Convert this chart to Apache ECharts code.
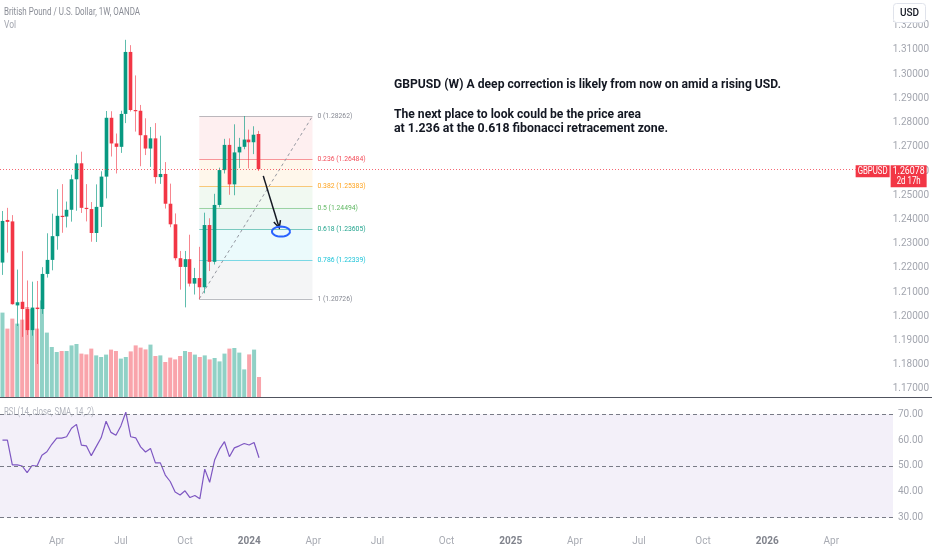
<!DOCTYPE html>
<html><head><meta charset="utf-8">
<script src="https://cdn.jsdelivr.net/npm/echarts@6/dist/echarts.min.js"></script>
<style>html,body{margin:0;padding:0;background:#fff}#c{width:932px;height:550px}</style>
</head><body><div id="c"></div>
<script>
// ---------- data ----------
const startWeek = '2023-01-16';
const totalWeeks = 181;
const MONTHS = ['Jan','Feb','Mar','Apr','May','Jun','Jul','Aug','Sep','Oct','Nov','Dec'];
const opens = [1.2222,1.2398,1.2392,1.2045,1.2060,1.2030,1.1943,1.2036,1.2030,1.2175,1.2233,1.2331,1.2415,1.2412,1.2440,1.2566,1.2632,1.2448,1.2443,1.2344,1.2452,1.2577,1.2820,1.2714,1.2700,1.2836,1.3092,1.2852,1.2849,1.2748,1.2693,1.2735,1.2575,1.2588,1.2465,1.2380,1.2240,1.2204,1.2236,1.2135,1.2158,1.2120,1.2377,1.2225,1.2460,1.2604,1.2708,1.2545,1.2677,1.2700,1.2730,1.2719,1.2753];
const highs = [1.2435,1.2448,1.2418,1.2193,1.2269,1.2148,1.2143,1.2146,1.2203,1.2343,1.2424,1.2525,1.2546,1.2474,1.2585,1.2667,1.2680,1.2546,1.2472,1.2545,1.2599,1.2848,1.2847,1.2755,1.2849,1.3142,1.3120,1.2995,1.2873,1.2818,1.2782,1.2798,1.2746,1.2637,1.2548,1.2425,1.2270,1.2270,1.2337,1.2200,1.2287,1.2428,1.2405,1.2506,1.2614,1.2733,1.2735,1.2793,1.2737,1.2827,1.2771,1.2785,1.2766];
const lows = [1.2171,1.2263,1.2048,1.1960,1.1915,1.1923,1.1920,1.1803,1.2010,1.2160,1.2190,1.2275,1.2345,1.2367,1.2391,1.2436,1.2427,1.2392,1.2308,1.2307,1.2369,1.2487,1.2660,1.2590,1.2675,1.2798,1.2846,1.2763,1.2620,1.2666,1.2617,1.2548,1.2547,1.2445,1.2368,1.2231,1.2110,1.2037,1.2123,1.2090,1.2070,1.2095,1.2187,1.2214,1.2450,1.2590,1.2502,1.2500,1.2612,1.2690,1.2611,1.2670,1.2600];
const closes = [1.2394,1.2390,1.2050,1.2058,1.2030,1.1943,1.2036,1.2030,1.2175,1.2233,1.2331,1.2415,1.2412,1.2440,1.2566,1.2632,1.2448,1.2443,1.2344,1.2452,1.2577,1.2820,1.2714,1.2700,1.2836,1.3092,1.2852,1.2849,1.2748,1.2693,1.2735,1.2575,1.2588,1.2465,1.2380,1.2240,1.2204,1.2236,1.2135,1.2158,1.2120,1.2377,1.2225,1.2460,1.2604,1.2708,1.2545,1.2677,1.2700,1.2730,1.2719,1.2750,1.26078];
const volumes = [422,342,392,367,387,450,440,342,483,322,250,225,230,230,258,265,217,213,242,208,200,212,237,230,192,200,228,258,247,238,262,205,208,175,197,188,205,230,225,212,200,208,188,195,178,217,242,245,222,138,213,237,100];
const rsi = [60.0,60.0,50.4,50.4,50.0,47.4,50.2,50.0,54.2,55.5,58.4,60.8,60.8,61.3,64.6,66.1,58.1,57.8,54.0,57.5,60.9,67.3,63.0,61.9,65.5,70.8,61.3,60.9,57.4,55.4,56.8,51.2,51.2,46.5,44.0,39.9,38.8,40.4,37.8,38.6,37.3,48.8,43.7,52.3,56.5,59.4,53.6,57.0,57.8,58.7,58.1,59.1,53.2];
const priceTicks = [1.17,1.18,1.19,1.20,1.21,1.22,1.23,1.24,1.25,1.26,1.27,1.28,1.29,1.30,1.31,1.32];
const rsiTicks = [30,40,50,60,70];
const rsiLevels = [70,50,30];
const fibLevels = ['0','0.236','0.382','0.5','0.618','0.786','1'];
const fibPrices = [1.28262,1.26484,1.25383,1.24494,1.23605,1.22339,1.20726];
const fibFrom = 40, fibTo = 63;           // week indices of the fib anchors
const arrowFrom = [53.0, 1.2580], arrowTo = [56.25, 1.2365];
const circleAt = [56.6, 1.2350];
const lastPrice = 1.26078;
const countdown = '2d 17h';
const symbol = 'GBPUSD';
const currency = 'USD';
const title = 'British Pound / U.S. Dollar, 1W, OANDA';
const volLabel = 'Vol';
const rsiLabel = 'RSI (14, close, SMA, 14, 2)';
const noteLines = [
  'GBPUSD (W) A deep correction is likely from now on amid a rising USD.',
  'The next place to look could be the price area',
  'at 1.236 at the 0.618 fibonacci retracement zone.'
];

// ---------- styles ----------
const UP = '#089981', DOWN = '#f23645';
const fibColors = ['#787b86','#f23645','#ff9800','#4caf50','#089981','#00bcd4','#787b86'];
const FONT = 'Roboto, "Noto Sans", sans-serif';

function rgba(hex, a){
  const n = parseInt(hex.slice(1),16);
  return 'rgba('+((n>>16)&255)+','+((n>>8)&255)+','+(n&255)+','+a+')';
}
const mctx = document.createElement('canvas').getContext('2d');
function fitScale(text, font, width){ mctx.font = font; const w = mctx.measureText(text).width; return w>0 ? width/w : 1; }

const weekDates = [];
const t0 = Date.parse(startWeek + 'T00:00:00Z');
for (let i=0;i<totalWeeks;i++) weekDates.push(new Date(t0 + i*7*86400000).toISOString().slice(0,10));
function quarterLabel(i){
  if (i<=0) return null;
  const m = +weekDates[i].slice(5,7), pm = +weekDates[i-1].slice(5,7);
  if (m===pm || (m-1)%3!==0) return null;
  return m===1 ? '{y|'+weekDates[i].slice(0,4)+'}' : '{m|'+MONTHS[m-1]+'}';
}

const candles = opens.map((o,i)=>[i,o,closes[i],lows[i],highs[i]]);

function renderCandle(params, api){
  const i = api.value(0), o = api.value(1), c = api.value(2), l = api.value(3), h = api.value(4);
  const po = api.coord([i,o]), pc = api.coord([i,c]), pl = api.coord([i,l]), ph = api.coord([i,h]);
  const w = api.size([1,0])[0]*0.74;
  const up = c >= o;
  const cx = Math.round(po[0]) + 0.5;
  const top = Math.min(po[1],pc[1]), bot = Math.max(po[1],pc[1]);
  return {type:'group', children:[
    {type:'line', shape:{x1:cx,y1:ph[1],x2:cx,y2:pl[1]}, style:{stroke: up?rgba(UP,0.65):rgba(DOWN,0.6), lineWidth:1}},
    {type:'rect', shape:{x:cx-w/2, y:top, width:w, height:Math.max(bot-top,1.2)}, style:{fill: up?UP:DOWN}}
  ]};
}

function renderFib(params, api){
  const ch = [];
  const x1 = api.coord([fibFrom, fibPrices[0]])[0], x2 = api.coord([fibTo, fibPrices[0]])[0];
  const ys = fibPrices.map(p=>api.coord([fibFrom,p])[1]);
  for (let k=0;k<fibPrices.length-1;k++){
    ch.push({type:'rect', shape:{x:x1,y:ys[k],width:x2-x1,height:ys[k+1]-ys[k]}, style:{fill:rgba(fibColors[k+1],0.08)}});
  }
  for (let k=0;k<fibPrices.length;k++){
    const y = Math.round(ys[k])+0.5;
    ch.push({type:'line', shape:{x1:x1,y1:y,x2:x2,y2:y}, style:{stroke:rgba(fibColors[k],0.5), lineWidth:1}});
    ch.push({type:'text', x:x2+5, y:y, style:{text:fibLevels[k]+' ('+fibPrices[k].toFixed(5)+')', fill:rgba(fibColors[k],0.9), fontSize:6.8, fontFamily:FONT, align:'left', verticalAlign:'middle'}});
  }
  const a = api.coord([fibFrom, fibPrices[6]]), b = api.coord([fibTo, fibPrices[0]]);
  ch.push({type:'line', shape:{x1:a[0],y1:a[1],x2:b[0],y2:b[1]}, style:{stroke:'#9598a1', lineWidth:1, lineDash:[3,3]}});
  return {type:'group', children:ch};
}

const boxFont = '10px Roboto';
function renderMarks(params, api){
  const ch = [];
  const cs = params.coordSys; const right = cs.x + cs.width;
  // arrow
  const p1 = api.coord(arrowFrom), p2 = api.coord(arrowTo);
  const ang = Math.atan2(p2[1]-p1[1], p2[0]-p1[0]);
  const L = 8, s = 0.45;
  ch.push({type:'line', shape:{x1:p1[0],y1:p1[1],x2:p2[0],y2:p2[1]}, style:{stroke:'#131722', lineWidth:1.5}});
  ch.push({type:'polyline', shape:{points:[[p2[0]-L*Math.cos(ang-s),p2[1]-L*Math.sin(ang-s)],p2,[p2[0]-L*Math.cos(ang+s),p2[1]-L*Math.sin(ang+s)]]}, style:{stroke:'#131722', lineWidth:1.5, fill:null}});
  // ellipse
  const c = api.coord(circleAt); const pts = [];
  for (let k=0;k<=32;k++){ const t = k/32*Math.PI*2; pts.push([c[0]+9*Math.cos(t), c[1]+5*Math.sin(t)]); }
  ch.push({type:'polyline', shape:{points:pts}, style:{stroke:'#2962ff', lineWidth:2, fill:null}});
  // last price line + labels
  const py = api.coord([0,lastPrice])[1];
  const yl = Math.round(py)+0.5;
  const priceTxt = lastPrice.toFixed(5);
  ch.push({type:'line', shape:{x1:cs.x,y1:yl,x2:right-35,y2:yl}, style:{stroke:rgba(DOWN,0.75), lineWidth:1, lineDash:[1,2]}});
  ch.push({type:'rect', shape:{x:right-35,y:py-4,width:34,height:12}, style:{fill:DOWN}});
  ch.push({type:'text', x:right-18, y:py+2, scaleX:Math.min(1,fitScale(symbol,boxFont,30)), style:{text:symbol, fill:'#fff', font:boxFont, align:'center', verticalAlign:'middle'}});
  ch.push({type:'rect', shape:{x:right,y:py-4,width:36,height:22}, style:{fill:DOWN}});
  ch.push({type:'text', x:right+18, y:py+2, scaleX:Math.min(1,fitScale(priceTxt,boxFont,32)), style:{text:priceTxt, fill:'#fff', font:boxFont, align:'center', verticalAlign:'middle'}});
  ch.push({type:'text', x:right+18, y:py+12.5, scaleX:Math.min(1,fitScale(countdown,boxFont,24)), style:{text:countdown, fill:'#fff', font:boxFont, align:'center', verticalAlign:'middle'}});
  return {type:'group', children:ch};
}

const noteFont = 'bold 13px Roboto';
const headFont = '10px Roboto';
const smallFont = '10px Roboto';

const option = {
  animation:false,
  backgroundColor:'#ffffff',
  textStyle:{fontFamily:FONT},
  grid:[
    {left:0,right:39,top:0,height:397},
    {left:0,right:39,top:299,height:98},
    {left:0,right:39,top:398,height:129}
  ],
  xAxis:[
    {type:'category',gridIndex:0,data:weekDates,boundaryGap:true,show:false},
    {type:'category',gridIndex:1,data:weekDates,boundaryGap:true,show:false},
    {type:'category',gridIndex:2,data:weekDates,boundaryGap:true,
      axisLine:{show:false},axisTick:{show:false},splitLine:{show:false},
      axisLabel:{interval:(i)=>quarterLabel(i)!==null, formatter:(v,i)=>quarterLabel(i)||'', margin:9,
        rich:{m:{fontSize:10,color:'#a8abb3',fontFamily:FONT}, y:{fontSize:10,fontWeight:'bold',color:'#80838c',fontFamily:FONT}}}},
    {type:'value',gridIndex:0,min:-0.5,max:totalWeeks-0.5,show:false}
  ],
  yAxis:[
    {type:'value',gridIndex:0,position:'right',min:1.16667,max:1.33065,
      splitLine:{show:false},axisLine:{show:false},axisTick:{show:false},
      axisLabel:{customValues:priceTicks,formatter:v=>v.toFixed(5),color:'#a3a6af',fontSize:10,margin:2,align:'left'}},
    {type:'value',gridIndex:1,min:0,max:490,show:false},
    {type:'value',gridIndex:2,position:'right',min:26.4,max:76.3,
      splitLine:{show:false},axisLine:{show:false},axisTick:{show:false},
      axisLabel:{customValues:rsiTicks,formatter:v=>v.toFixed(2),color:'#a3a6af',fontSize:10,margin:5,align:'left'}}
  ],
  series:[
    {type:'bar',xAxisIndex:1,yAxisIndex:1,barWidth:'82%',z:1,silent:true,
      data:volumes.map((v,i)=>({value:v,itemStyle:{color: closes[i]>=opens[i]?rgba(UP,0.45):rgba(DOWN,0.45)}}))},
    {type:'custom',xAxisIndex:3,yAxisIndex:0,data:[[0,0]],renderItem:renderFib,z:2,silent:true,clip:false},
    {type:'custom',xAxisIndex:0,yAxisIndex:0,data:candles,renderItem:renderCandle,encode:{x:0,y:[1,2,3,4]},z:3,silent:true,clip:false},
    {type:'custom',xAxisIndex:3,yAxisIndex:0,data:[[0,0]],renderItem:renderMarks,z:6,silent:true,clip:false},
    {type:'line',xAxisIndex:2,yAxisIndex:2,data:rsi,symbol:'none',silent:true,z:3,
      lineStyle:{color:'#7e57c2',width:1.2},
      markLine:{silent:true,symbol:['none','none'],label:{show:false},
        lineStyle:{color:'#787b86',type:[4,3],width:1},
        data:rsiLevels.map(v=>({yAxis:v}))},
      markArea:{silent:true,itemStyle:{color:'rgba(126,87,194,0.09)'},
        data:[[{yAxis:rsiLevels[2]},{yAxis:rsiLevels[0]}]]}}
  ],
  graphic:[
    {type:'line',z:100,shape:{x1:0,y1:397.5,x2:932,y2:397.5},style:{stroke:'#50535e',lineWidth:1}},
    {type:'text',z:100,x:4,y:12,scaleX:fitScale(title,headFont,136),style:{text:title,font:headFont,fill:'#8a8d96',verticalAlign:'middle'}},
    {type:'text',z:100,x:4,y:25,scaleX:fitScale(volLabel,headFont,12),style:{text:volLabel,font:headFont,fill:'#a3a6af',verticalAlign:'middle'}},
    {type:'text',z:100,x:4,y:412,scaleX:fitScale(rsiLabel,smallFont,90),style:{text:rsiLabel,font:smallFont,fill:'#b2b5be',verticalAlign:'middle'}},
    {type:'text',z:100,x:394,y:85,scaleX:fitScale(noteLines[0],noteFont,387),style:{text:noteLines[0],font:noteFont,fill:'#131722',verticalAlign:'middle'}},
    {type:'text',z:100,x:394,y:114.5,scaleX:fitScale(noteLines[1],noteFont,247),style:{text:noteLines[1],font:noteFont,fill:'#131722',verticalAlign:'middle'}},
    {type:'text',z:100,x:394,y:128.5,scaleX:fitScale(noteLines[2],noteFont,274),style:{text:noteLines[2],font:noteFont,fill:'#131722',verticalAlign:'middle'}},
    {type:'rect',z:100,shape:{x:893.5,y:3.5,width:32,height:19,r:3},style:{fill:'#ffffff',stroke:'#e0e3eb',lineWidth:1}},
    {type:'text',z:101,x:909.5,y:13,style:{text:currency,font:'500 10px Roboto',fill:'#131722',align:'center',verticalAlign:'middle'}}
  ]
};
const chart = echarts.init(document.getElementById('c'), null, {renderer:'canvas'});
chart.setOption(option);
</script></body></html>
